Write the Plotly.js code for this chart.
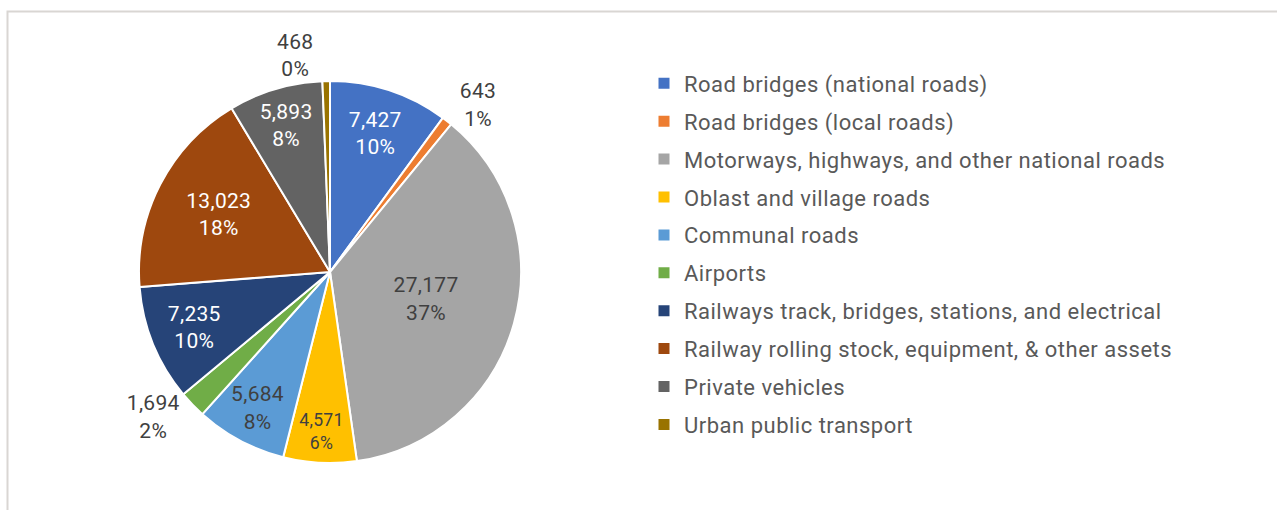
<!DOCTYPE html>
<html>
<head>
<meta charset="utf-8">
<script src="https://cdn.plot.ly/plotly-3.0.1.min.js"></script>
<style>
html,body{margin:0;padding:0;background:#fff;}
#chart{width:1277px;height:510px;}
text.legendtext{letter-spacing:0.5px;}
text.slicetext{letter-spacing:0.3px;}
</style>
</head>
<body>
<div id="chart"></div>
<script>
const categories = [
  "Road bridges (national roads)",
  "Road bridges (local roads)",
  "Motorways, highways, and other national roads",
  "Oblast and village roads",
  "Communal roads",
  "Airports",
  "Railways track, bridges, stations, and electrical",
  "Railway rolling stock, equipment, & other assets",
  "Private vehicles",
  "Urban public transport"
];
const values = [7427, 643, 27177, 4571, 5684, 1694, 7235, 13023, 5893, 468];
const percentLabels = ["10%", "1%", "37%", "6%", "8%", "2%", "10%", "18%", "8%", "0%"];
const colors = ["#4472C4", "#ED7D31", "#A5A5A5", "#FFC000", "#5B9BD5", "#70AD47", "#264478", "#9E480E", "#636363", "#997300"];
const labelPositions = ["inside", "outside", "inside", "inside", "inside", "outside", "inside", "inside", "inside", "outside"];
const insideColors = ["#ffffff", "#404040", "#404040", "#404040", "#404040", "#404040", "#ffffff", "#ffffff", "#ffffff", "#404040"];

const W = 1277, H = 510;
const FONT = "Roboto, 'Noto Sans', sans-serif";

const pie = {
  type: "pie",
  labels: categories,
  values: values,
  text: percentLabels,
  texttemplate: "%{value:,}<br>%{text}",
  textposition: labelPositions,
  insidetextorientation: "horizontal",
  insidetextfont: {family: FONT, size: 21, color: insideColors},
  outsidetextfont: {family: FONT, size: 21, color: "#404040"},
  marker: {colors: colors, line: {color: "#ffffff", width: 2}},
  sort: false,
  direction: "clockwise",
  rotation: 0,
  showlegend: false,
  hoverinfo: "label+value+percent",
  domain: {x: [139 / W, 521 / W], y: [1 - 463 / H, 1 - 81 / H]}
};

const legendTraces = categories.map((c, i) => ({
  type: "scatter",
  mode: "markers",
  x: [null], y: [null],
  name: c,
  legendgroup: "g" + i,
  showlegend: true,
  hoverinfo: "skip",
  marker: {symbol: "square", size: 11, color: colors[i]}
}));

const layout = {
  width: W, height: H,
  margin: {l: 0, r: 0, t: 0, b: 0},
  paper_bgcolor: "#ffffff",
  plot_bgcolor: "#ffffff",
  font: {family: FONT, color: "#595959"},
  xaxis: {visible: false, domain: [0.95, 1]},
  yaxis: {visible: false, domain: [0.95, 1]},
  showlegend: true,
  legend: {
    x: 644 / W, xanchor: "left",
    y: 1 - 62.5 / H, yanchor: "top",
    font: {family: FONT, size: 22, color: "#595959"},
    traceorder: "grouped",
    tracegroupgap: 6.3,
    bgcolor: "rgba(0,0,0,0)",
    itemclick: false, itemdoubleclick: false
  },
  shapes: [{
    type: "rect", xref: "paper", yref: "paper",
    x0: 7.5 / W, x1: 1.05, y0: -0.05, y1: 1 - 11.5 / H,
    line: {color: "#D9D6D3", width: 2}, fillcolor: "rgba(0,0,0,0)", layer: "below"
  }]
};

Plotly.newPlot("chart", [pie].concat(legendTraces), layout, {displayModeBar: false});
</script>
</body>
</html>
